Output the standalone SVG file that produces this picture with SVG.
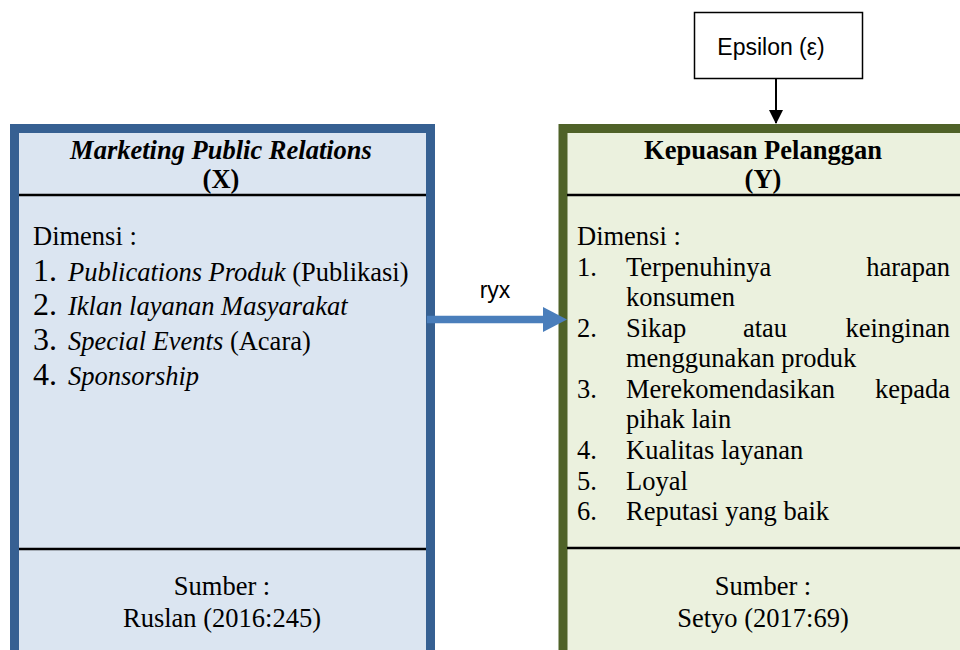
<svg xmlns="http://www.w3.org/2000/svg" width="960" height="650" viewBox="0 0 960 650">
<style>
.t{font-family:"Liberation Serif","Times New Roman",serif;font-size:26.5px;fill:#000}
.h{font-family:"Liberation Serif","Times New Roman",serif;font-size:26.5px;font-weight:bold;fill:#000}
.n{font-size:32px}
.i{font-style:italic}
.s{font-family:"Liberation Sans",Arial,sans-serif;font-size:23px;fill:#000}
.div{stroke:#000;stroke-width:2.5}
</style>
<defs>
<marker id="blk" markerWidth="14" markerHeight="14" refX="13" refY="7" orient="auto" markerUnits="userSpaceOnUse">
<path d="M0,0 L14,7 L0,14 z" fill="#000"/>
</marker>
</defs>
<rect width="960" height="650" fill="#fff"/>
<g id="nodeX">
<rect x="14.5" y="128.5" width="416" height="540" fill="#dbe5f1" stroke="#366092" stroke-width="9"/>
<line class="div" x1="19" y1="195" x2="426" y2="195"/>
<line class="div" x1="19" y1="549" x2="426" y2="549"/>
<text class="h" x="221" y="159" text-anchor="middle" font-style="italic">Marketing Public Relations</text>
<text class="h" x="221" y="188" text-anchor="middle">(X)</text>
<text class="t" x="33" y="245">Dimensi :</text>
<text class="t" x="33" y="281"><tspan class="n">1.</tspan><tspan x="68" class="i">Publications Produk</tspan> (Publikasi)</text>
<text class="t" x="33" y="315"><tspan class="n">2.</tspan><tspan x="68" class="i">Iklan layanan Masyarakat</tspan></text>
<text class="t" x="33" y="350"><tspan class="n">3.</tspan><tspan x="68" class="i">Special Events</tspan> (Acara)</text>
<text class="t" x="33" y="385"><tspan class="n">4.</tspan><tspan x="68" class="i">Sponsorship</tspan></text>
<text class="t" x="222" y="595" text-anchor="middle">Sumber :</text>
<text class="t" x="222" y="627" text-anchor="middle">Ruslan (2016:245)</text>
</g>
<g id="nodeY">
<rect x="563" y="128.5" width="420" height="540" fill="#ebf1de" stroke="#4f6228" stroke-width="9"/>
<line class="div" x1="567" y1="195" x2="960" y2="195"/>
<line class="div" x1="567" y1="548" x2="960" y2="548"/>
<text class="h" x="763" y="159" text-anchor="middle">Kepuasan Pelanggan</text>
<text class="h" x="763" y="188" text-anchor="middle">(Y)</text>
<text class="t" x="577" y="245">Dimensi :</text>
<text class="t" x="577" y="276">1.</text>
<text class="t" x="626" y="276">Terpenuhinya</text>
<text class="t" x="950" y="276" text-anchor="end">harapan</text>
<text class="t" x="626" y="306">konsumen</text>
<text class="t" x="577" y="337">2.</text>
<text class="t" x="626" y="337">Sikap</text>
<text class="t" x="765" y="337" text-anchor="middle">atau</text>
<text class="t" x="950" y="337" text-anchor="end">keinginan</text>
<text class="t" x="626" y="367">menggunakan produk</text>
<text class="t" x="577" y="398">3.</text>
<text class="t" x="626" y="398">Merekomendasikan</text>
<text class="t" x="950" y="398" text-anchor="end">kepada</text>
<text class="t" x="626" y="428">pihak lain</text>
<text class="t" x="577" y="459">4.</text>
<text class="t" x="626" y="459">Kualitas layanan</text>
<text class="t" x="577" y="490">5.</text>
<text class="t" x="626" y="490">Loyal</text>
<text class="t" x="577" y="520">6.</text>
<text class="t" x="626" y="520">Reputasi yang baik</text>
<text class="t" x="763" y="595" text-anchor="middle">Sumber :</text>
<text class="t" x="763" y="627" text-anchor="middle">Setyo (2017:69)</text>
</g>
<g id="nodeE">
<rect x="694.5" y="12.5" width="168" height="66" fill="#fff" stroke="#000" stroke-width="1.5"/>
<text class="s" x="771" y="55" text-anchor="middle">Epsilon (ε)</text>
</g>
<g id="connectors">
<line x1="776" y1="79" x2="776" y2="123" stroke="#000" stroke-width="2" marker-end="url(#blk)"/>
<line x1="427" y1="319.5" x2="545" y2="319.5" stroke="#4a7ebb" stroke-width="7.5"/>
<path d="M543,307 L567,319.5 L543,332 z" fill="#4a7ebb"/>
<text class="s" x="495" y="298" text-anchor="middle">ryx</text>
</g>
</svg>
